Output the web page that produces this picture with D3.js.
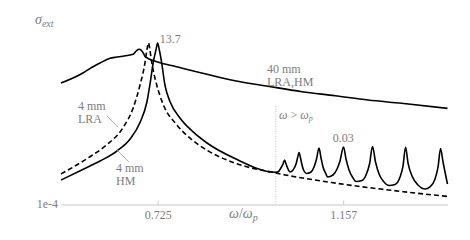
<!DOCTYPE html>
<html>
<head>
<meta charset="utf-8">
<script src="https://cdn.jsdelivr.net/npm/d3@7"></script>
<style>
  html, body { margin: 0; padding: 0; background: #fff; }
  svg { display: block; }
  text { font-family: "Liberation Serif", "DejaVu Serif", serif; }
</style>
</head>
<body>
<svg id="chart" width="470" height="240"></svg>
<script>
// ---- data ----
const omega40 = [0.5, 0.551, 0.568, 0.591, 0.614, 0.630, 0.668, 0.676, 0.682, 0.692,
  0.696, 0.723, 0.769, 0.847, 0.905, 0.979, 1.061, 1.138, 1.215, 1.293, 1.4];
const sigma40 = [0.727, 1.52, 2.14, 3.16, 4.47, 4.91, 6.0, 7.81, 8.65, 6.45,
  5.02, 3.48, 2.41, 1.31, 0.861, 0.583, 0.384, 0.286, 0.208, 0.164, 0.113];

const omegaLRA = [0.5, 0.5675, 0.606, 0.644, 0.668, 0.684, 0.696, 0.700, 0.704, 0.707,
  0.711, 0.723, 0.738, 0.769, 0.800, 0.839, 0.905, 1.0, 1.142, 1.297, 1.4];
const sigmaLRA = [9.1e-4, 3.23e-3, 7.64e-3, 0.0267, 0.116, 0.628, 3.48, 8.2, 14, 8.2,
  3.48, 0.628, 0.15, 0.0344, 0.0128, 5.3e-3, 2.03e-3, 9.75e-4, 4.58e-4, 2.47e-4, 1.74e-4];

const omegaHM = [0.5, 0.5675, 0.591, 0.630, 0.661, 0.684, 0.700, 0.707, 0.715, 0.721,
  0.725, 0.729, 0.734, 0.742, 0.754, 0.777, 0.807, 0.840, 0.905, 1.0,
  1.006, 1.012, 1.017, 1.0205, 1.024, 1.0286, 1.0333, 1.0403, 1.0473, 1.0508,
  1.0543, 1.0578, 1.0612, 1.0659, 1.0717, 1.0822, 1.0892, 1.095, 1.1008, 1.1055,
  1.1101, 1.1171, 1.1206, 1.1334, 1.1428, 1.1497, 1.1579, 1.1637, 1.1707, 1.18,
  1.187, 1.201, 1.2103, 1.2184, 1.2254, 1.2324, 1.2406, 1.2522, 1.2638, 1.2778,
  1.2895, 1.2964, 1.3023, 1.3081, 1.3174, 1.3314, 1.3477, 1.3593, 1.371, 1.378,
  1.3838, 1.3896, 1.3966, 1.4];
const sigmaHM = [5.8e-4, 1.63e-3, 2.36e-3, 4.91e-3, 0.0119, 0.0399, 0.18, 0.64, 3.40, 8.2,
  13.7, 8.2, 3.48, 0.628, 0.184, 0.0556, 0.0203, 8.85e-3, 2.83e-3, 1.03e-3,
  1.07e-3, 1.41e-3, 1.89e-3, 2.54e-3, 1.89e-3, 1.31e-3, 1.05e-3, 1.22e-3, 1.89e-3, 2.94e-3,
  4.40e-3, 2.94e-3, 1.76e-3, 1.13e-3, 9.4e-4, 1.05e-3, 1.52e-3, 2.73e-3, 6.13e-3, 2.94e-3,
  1.52e-3, 9.07e-4, 7.27e-4, 8.42e-4, 1.31e-3, 2.36e-3, 6.59e-3, 2.73e-3, 1.22e-3, 6.76e-4,
  5.23e-4, 5.62e-4, 8.42e-4, 1.89e-3, 6.84e-3, 2.19e-3, 9.07e-4, 5.04e-4, 3.89e-4, 4.19e-4,
  7.27e-4, 1.63e-3, 6.50e-3, 2.03e-3, 7.83e-4, 4.04e-4, 3.01e-4, 3.49e-4, 6.28e-4, 1.52e-3,
  5.91e-3, 2.19e-3, 7.27e-4, 4.35e-4];

const xTickValues = [0.725, 1.157];
const xTickLabels = ["0.725", "1.157"];
const yTickValues = [1e-4];
const yTickLabels = ["1e-4"];
const omegaP = 1.0;
const peakLabel = "13.7";
const peakLabelOmega = 0.725, peakLabelSigma = 13.7;
const combLabel = "0.03";
const combLabelOmega = 1.157;

// ---- scales ----
const svg = d3.select("#chart");
const x = d3.scaleLinear().domain([0.5, 1.4]).range([61, 447.5]);
const y = d3.scaleLog().domain([1e-4, 1e2]).range([204, 16]);
const grey = "#7d7d7d";

const line = d3.line()
  .x(d => x(d[0]))
  .y(d => y(d[1]))
  .curve(d3.curveMonotoneX);

const zip = (a, b) => a.map((v, i) => [v, b[i]]);

// ---- axes ----
const xAxis = d3.axisBottom(x)
  .tickValues(xTickValues)
  .tickFormat((d, i) => xTickLabels[i])
  .tickSizeInner(-4)
  .tickSizeOuter(0)
  .tickPadding(6);
const gx = svg.append("g").attr("transform", "translate(0,204.5)").call(xAxis);
gx.select(".domain").attr("stroke", "#d8d8d8").attr("stroke-width", 1.6);
gx.selectAll(".tick line").attr("stroke", "#bbb").attr("stroke-width", 0.8);
gx.selectAll(".tick text").attr("fill", grey).attr("font-size", 12)
  .attr("font-family", "Liberation Serif, serif");

const yAxis = d3.axisLeft(y)
  .tickValues(yTickValues)
  .tickFormat((d, i) => yTickLabels[i])
  .tickSize(0)
  .tickPadding(3);
const gy = svg.append("g").attr("transform", "translate(61,0)").call(yAxis);
gy.select(".domain").remove();
gy.selectAll(".tick text").attr("fill", grey).attr("font-size", 12)
  .attr("font-family", "Liberation Serif, serif");

// omega_p dotted line
svg.append("line")
  .attr("x1", x(omegaP)).attr("x2", x(omegaP))
  .attr("y1", 106).attr("y2", 204)
  .attr("stroke", "#c4c4c4").attr("stroke-width", 1)
  .attr("stroke-dasharray", "1,1.5");

// ---- curves ----
svg.append("path").datum(zip(omega40, sigma40))
  .attr("d", line).attr("fill", "none").attr("stroke", "#000").attr("stroke-width", 1.6);
svg.append("path").datum(zip(omegaLRA, sigmaLRA))
  .attr("d", line).attr("fill", "none").attr("stroke", "#000").attr("stroke-width", 1.6)
  .attr("stroke-dasharray", "5,3");
svg.append("path").datum(zip(omegaHM, sigmaHM))
  .attr("d", line).attr("fill", "none").attr("stroke", "#000").attr("stroke-width", 1.6);

// ---- annotations ----
function txt(xp, yp, s, anchor) {
  return svg.append("text").attr("x", xp).attr("y", yp).attr("fill", grey)
    .attr("font-size", 12).attr("text-anchor", anchor || "start").text(s);
}
txt(x(peakLabelOmega) + 2, y(peakLabelSigma) - 0.5, peakLabel);
txt(x(combLabelOmega), 142, combLabel, "middle");

txt(267, 73, "40 mm");
txt(267, 86, "LRA,HM");

txt(78, 110, "4 mm");
txt(78, 123, "LRA");
svg.append("line").attr("x1", 107).attr("y1", 116).attr("x2", 118).attr("y2", 127)
  .attr("stroke", "#999").attr("stroke-width", 0.8);

txt(116, 172, "4 mm");
txt(116, 185, "HM");
svg.append("line").attr("x1", 117).attr("y1", 150).attr("x2", 129).attr("y2", 162)
  .attr("stroke", "#999").attr("stroke-width", 0.8);

const t1 = svg.append("text").attr("x", 279).attr("y", 119).attr("fill", grey)
  .attr("font-size", 12);
t1.append("tspan").attr("font-style", "italic").text("ω");
t1.append("tspan").text(" > ");
t1.append("tspan").attr("font-style", "italic").text("ω");
t1.append("tspan").attr("font-style", "italic").attr("font-size", 8).attr("dy", 2).text("p");

const t2 = svg.append("text").attr("x", 229).attr("y", 218).attr("fill", grey)
  .attr("font-size", 14);
t2.append("tspan").attr("font-style", "italic").text("ω");
t2.append("tspan").text("/");
t2.append("tspan").attr("font-style", "italic").text("ω");
t2.append("tspan").attr("font-style", "italic").attr("font-size", 10).attr("dy", 3).text("p");

const t3 = svg.append("text").attr("x", 35).attr("y", 24).attr("fill", grey)
  .attr("font-size", 14);
t3.append("tspan").attr("font-style", "italic").text("σ");
t3.append("tspan").attr("font-style", "italic").attr("font-size", 10).attr("dy", 3).text("ext");
</script>
</body>
</html>
